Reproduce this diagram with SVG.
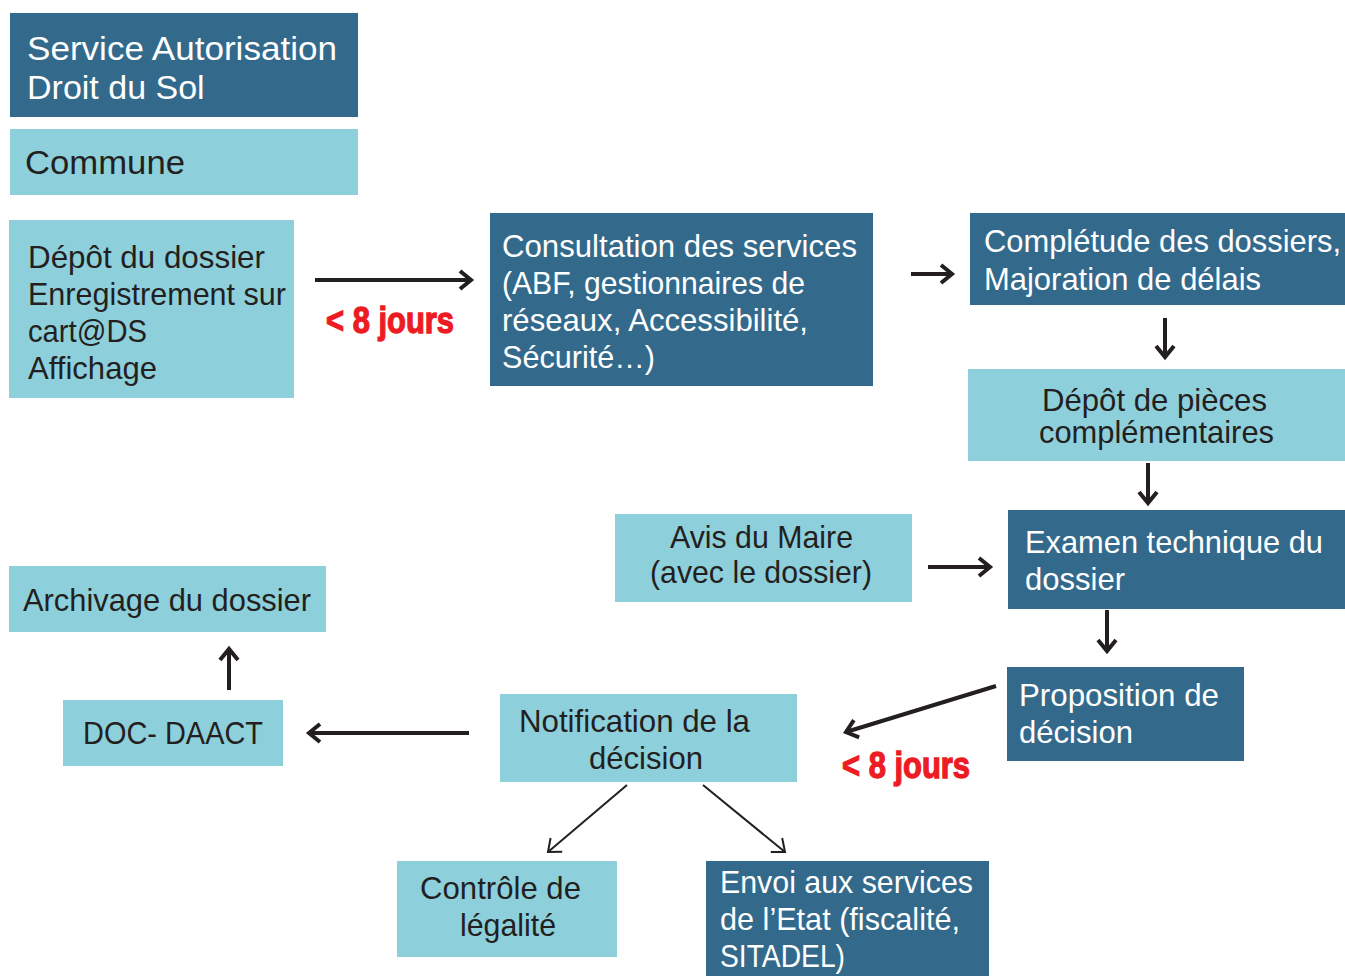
<svg xmlns="http://www.w3.org/2000/svg" width="1345" height="976" viewBox="0 0 1345 976">
<defs>
<style>
.dk{fill:#336A8C}
.lt{fill:#8DCFDB}
text{font-family:"Liberation Sans",Arial,Helvetica,sans-serif;font-size:31.5px}
.w{fill:#FFFFFF}
.b{fill:#231F20}
.h{font-size:34px}
.red{fill:#ED1C24;font-weight:bold;font-size:36px;stroke:#ED1C24;stroke-width:1.3px}
.c{stroke:#231F20;fill:none;stroke-width:4}
.cs{stroke:#231F20;fill:none;stroke-width:2}
</style>
<marker id="ah" markerUnits="userSpaceOnUse" markerWidth="24" markerHeight="28" refX="16" refY="14" orient="auto" overflow="visible">
<path d="M5,5 L16,14 L5,23" fill="none" stroke="#231F20" stroke-width="4"/>
</marker>
<marker id="ahs" markerUnits="userSpaceOnUse" markerWidth="24" markerHeight="24" refX="14" refY="12" orient="auto" overflow="visible">
<path d="M3,3 L14,12 L3,21" fill="none" stroke="#231F20" stroke-width="2"/>
</marker>
</defs>
<rect width="1345" height="976" fill="#FFFFFF"/>

<g id="service">
<rect class="dk" x="10" y="13" width="348" height="104"/>
<text class="w h" x="27" y="60" textLength="310" lengthAdjust="spacingAndGlyphs">Service Autorisation</text>
<text class="w h" x="27" y="99">Droit du Sol</text>
</g>
<g id="commune">
<rect class="lt" x="10" y="129" width="348" height="66"/>
<text class="b h" x="25" y="174" textLength="160" lengthAdjust="spacingAndGlyphs">Commune</text>
</g>

<g id="depot">
<rect class="lt" x="9" y="220" width="285" height="178"/>
<text class="b" x="28" y="268" textLength="237" lengthAdjust="spacingAndGlyphs">Dépôt du dossier</text>
<text class="b" x="28" y="305" textLength="258" lengthAdjust="spacingAndGlyphs">Enregistrement sur</text>
<text class="b" x="28" y="342" textLength="119" lengthAdjust="spacingAndGlyphs">cart@DS</text>
<text class="b" x="28" y="379" textLength="129" lengthAdjust="spacingAndGlyphs">Affichage</text>
</g>

<g id="consultation">
<rect class="dk" x="490" y="213" width="383" height="173"/>
<text class="w" x="502" y="257" textLength="355" lengthAdjust="spacingAndGlyphs">Consultation des services</text>
<text class="w" x="502" y="294" textLength="303" lengthAdjust="spacingAndGlyphs">(ABF, gestionnaires de</text>
<text class="w" x="502" y="331" textLength="306" lengthAdjust="spacingAndGlyphs">réseaux, Accessibilité,</text>
<text class="w" x="502" y="368" textLength="153" lengthAdjust="spacingAndGlyphs">Sécurité…)</text>
</g>

<g id="completude">
<rect class="dk" x="970" y="213" width="375" height="92"/>
<text class="w" x="984" y="252" textLength="357" lengthAdjust="spacingAndGlyphs">Complétude des dossiers,</text>
<text class="w" x="984" y="290" textLength="277" lengthAdjust="spacingAndGlyphs">Majoration de délais</text>
</g>

<g id="pieces">
<rect class="lt" x="968" y="369" width="377" height="92"/>
<text class="b" x="1042" y="411" textLength="225" lengthAdjust="spacingAndGlyphs">Dépôt de pièces</text>
<text class="b" x="1039" y="443" textLength="235" lengthAdjust="spacingAndGlyphs">complémentaires</text>
</g>

<g id="avis">
<rect class="lt" x="615" y="514" width="297" height="88"/>
<text class="b" x="670" y="548" textLength="183" lengthAdjust="spacingAndGlyphs">Avis du Maire</text>
<text class="b" x="650" y="583" textLength="222" lengthAdjust="spacingAndGlyphs">(avec le dossier)</text>
</g>

<g id="examen">
<rect class="dk" x="1008" y="510" width="337" height="99"/>
<text class="w" x="1025" y="553" textLength="298" lengthAdjust="spacingAndGlyphs">Examen technique du</text>
<text class="w" x="1025" y="590" textLength="100" lengthAdjust="spacingAndGlyphs">dossier</text>
</g>

<g id="archivage">
<rect class="lt" x="9" y="566" width="317" height="66"/>
<text class="b" x="23" y="611" textLength="288" lengthAdjust="spacingAndGlyphs">Archivage du dossier</text>
</g>

<g id="proposition">
<rect class="dk" x="1007" y="667" width="237" height="94"/>
<text class="w" x="1019" y="706" textLength="200" lengthAdjust="spacingAndGlyphs">Proposition de</text>
<text class="w" x="1019" y="743" textLength="114" lengthAdjust="spacingAndGlyphs">décision</text>
</g>

<g id="notification">
<rect class="lt" x="500" y="694" width="297" height="88"/>
<text class="b" x="519" y="732" textLength="231" lengthAdjust="spacingAndGlyphs">Notification de la</text>
<text class="b" x="589" y="769" textLength="114" lengthAdjust="spacingAndGlyphs">décision</text>
</g>

<g id="docdaact">
<rect class="lt" x="63" y="700" width="220" height="66"/>
<text class="b" x="83" y="744" textLength="180" lengthAdjust="spacingAndGlyphs">DOC- DAACT</text>
</g>

<g id="controle">
<rect class="lt" x="397" y="861" width="220" height="96"/>
<text class="b" x="420" y="899" textLength="161" lengthAdjust="spacingAndGlyphs">Contrôle de</text>
<text class="b" x="460" y="936" textLength="96" lengthAdjust="spacingAndGlyphs">légalité</text>
</g>

<g id="envoi">
<rect class="dk" x="706" y="861" width="283" height="115"/>
<text class="w" x="720" y="893" textLength="253" lengthAdjust="spacingAndGlyphs">Envoi aux services</text>
<text class="w" x="720" y="930" textLength="240" lengthAdjust="spacingAndGlyphs">de l’Etat (fiscalité,</text>
<text class="w" x="720" y="967" textLength="125" lengthAdjust="spacingAndGlyphs">SITADEL)</text>
</g>

<g id="labels">
<text class="red" x="326" y="333" textLength="128" lengthAdjust="spacingAndGlyphs">&lt; 8 jours</text>
<text class="red" x="842" y="778" textLength="128" lengthAdjust="spacingAndGlyphs">&lt; 8 jours</text>
</g>

<g id="connectors">
<line class="c" x1="315" y1="280" x2="471" y2="280" marker-end="url(#ah)"/>
<line class="c" x1="911" y1="274" x2="952" y2="274" marker-end="url(#ah)"/>
<line class="c" x1="1165" y1="318" x2="1165" y2="357" marker-end="url(#ah)"/>
<line class="c" x1="1148" y1="463" x2="1148" y2="503" marker-end="url(#ah)"/>
<line class="c" x1="928" y1="567" x2="990" y2="567" marker-end="url(#ah)"/>
<line class="c" x1="1107" y1="610" x2="1107" y2="651" marker-end="url(#ah)"/>
<line class="c" x1="996" y1="686" x2="846" y2="732" marker-end="url(#ah)"/>
<line class="c" x1="229" y1="690" x2="229" y2="649" marker-end="url(#ah)"/>
<line class="c" x1="469" y1="733" x2="309" y2="733" marker-end="url(#ah)"/>
<line class="cs" x1="627" y1="785" x2="548" y2="852" marker-end="url(#ahs)"/>
<line class="cs" x1="703" y1="785" x2="785" y2="852" marker-end="url(#ahs)"/>
</g>
</svg>
